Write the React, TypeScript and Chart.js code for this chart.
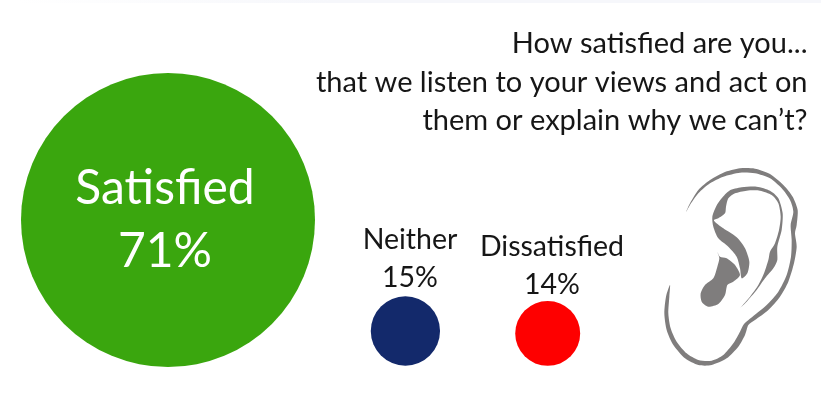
import React, { useEffect, useRef } from "react";
import { Chart, registerables } from "chart.js";

Chart.register(...registerables);

// Survey results
const categories = ["Satisfied", "Neither", "Dissatisfied"];
const shares = [71, 15, 14];

const questionLines = [
  "How satisfied are you...",
  "that we listen to your views and act on",
  "them or explain why we can\u2019t?",
];

// Where each result sits on the page, in page units
const centreX = [168, 405.4, 547.7];
const centreY = [220, 331, 333.4];
const colours = ["#3aa60e", "#13296b", "#fe0000"];

// Caption placement: centre x, baselines of the name and the share, size, colour
const captionX = [165, 410, 552];
const nameBaseline = [204, 249, 256];
const shareBaseline = [267, 287, 294];
const captionSize = [48, 28.5, 28.5];
const captionColour = ["#ffffff", "#161616", "#161616"];

const FONT = "Lato, 'Noto Sans', sans-serif";

// Bubble radius grows with the share
const radiusFor = (share: number) => 147 * Math.pow(share / 71, 0.93);

// Outline points for the ear artwork, drawn at a third of these units from (640,150)
const earHelix = [
  [138, 187], [150, 160], [175, 120], [210, 90], [250, 68], [300, 55], [345, 56], [390, 72],
  [430, 105], [458, 140], [473, 180], [470, 225], [465, 250], [470, 290], [462, 340], [445, 395],
  [420, 440], [385, 480], [345, 510], [325, 525], [315, 555], [295, 590], [260, 625], [215, 645],
  [175, 645], [135, 625], [100, 585], [80, 540], [73, 490], [78, 440], [90, 405], [88, 440],
  [85, 490], [92, 535], [110, 575], [140, 610], [175, 630], [215, 632], [250, 615], [280, 580],
  [300, 545], [312, 522], [340, 498], [380, 465], [415, 425], [440, 375], [453, 320], [455, 270],
  [452, 225], [460, 185], [450, 150], [425, 115], [390, 85], [345, 70], [300, 68], [250, 80],
  [210, 100], [175, 130], [150, 165],
];
const earFold = [
  [302, 472], [330, 440], [355, 405], [372, 370], [385, 330], [390, 305], [405, 280], [417, 240],
  [422, 200], [415, 160], [395, 135], [360, 122], [320, 122], [285, 130], [265, 145], [258, 170],
  [255, 190], [235, 205], [222, 212], [250, 235], [290, 262], [315, 295], [328, 335], [322, 370],
  [305, 385], [300, 355], [290, 320], [265, 290], [235, 265], [220, 230], [217, 200], [228, 170],
  [245, 145], [268, 122], [305, 112], [350, 110], [390, 122], [415, 145], [428, 190], [425, 240],
  [412, 290], [412, 330], [400, 355], [375, 385], [350, 420], [320, 455],
];
const earLobe = [
  [232, 305], [240, 320], [260, 325], [285, 345], [300, 375], [280, 395], [262, 405], [255, 435],
  [235, 462], [205, 470], [185, 455], [182, 430], [195, 405], [220, 385], [232, 350], [238, 325],
];

// Closed Catmull-Rom curve through every outline point
function traceSmooth(ctx: CanvasRenderingContext2D, pts: number[][]) {
  const n = pts.length;
  ctx.moveTo(pts[0][0], pts[0][1]);
  for (let i = 0; i < n; i++) {
    const p0 = pts[(i - 1 + n) % n];
    const p1 = pts[i];
    const p2 = pts[(i + 1) % n];
    const p3 = pts[(i + 2) % n];
    ctx.bezierCurveTo(
      p1[0] + (p2[0] - p0[0]) / 8,
      p1[1] + (p2[1] - p0[1]) / 8,
      p2[0] - (p3[0] - p1[0]) / 8,
      p2[1] - (p3[1] - p1[1]) / 8,
      p2[0],
      p2[1],
    );
  }
  ctx.closePath();
}

const annotations = {
  id: "annotations",
  afterDatasetsDraw(chart: any) {
    const { ctx, scales } = chart;
    ctx.save();

    ctx.fillStyle = "#161616";
    ctx.textAlign = "right";
    ctx.textBaseline = "alphabetic";
    ctx.font = `29px ${FONT}`;
    questionLines.forEach((line, i) => {
      ctx.fillText(line, scales.x.getPixelForValue(807.5), scales.y.getPixelForValue(53 + i * 38.5));
    });

    ctx.textAlign = "center";
    categories.forEach((name, i) => {
      ctx.fillStyle = captionColour[i];
      ctx.font = `${captionSize[i]}px ${FONT}`;
      const x = scales.x.getPixelForValue(captionX[i]);
      ctx.fillText(name, x, scales.y.getPixelForValue(nameBaseline[i]));
      ctx.fillText(`${shares[i]}%`, x, scales.y.getPixelForValue(shareBaseline[i]));
    });

    ctx.translate(640, 150);
    ctx.scale(1 / 3, 1 / 3);
    ctx.fillStyle = "#7f7d7d";
    [earHelix, earFold, earLobe].forEach((shape) => {
      ctx.beginPath();
      traceSmooth(ctx, shape);
      ctx.fill();
    });
    ctx.restore();
  },
};

export default function App() {
  const ref = useRef<HTMLCanvasElement>(null);

  useEffect(() => {
    const chart = new Chart(ref.current!, {
      type: "bubble",
      data: {
        labels: categories,
        datasets: [
          {
            label: "Share of responses",
            data: shares.map((share, i) => ({
              x: centreX[i],
              y: centreY[i],
              r: radiusFor(share),
            })),
            backgroundColor: colours,
            borderWidth: 0,
            hoverBorderWidth: 0,
          },
        ],
      },
      options: {
        animation: false,
        responsive: false,
        events: [],
        layout: { padding: 0, autoPadding: false },
        plugins: { legend: { display: false }, tooltip: { enabled: false } },
        scales: {
          x: { type: "linear", min: 0, max: 821, display: false },
          y: { type: "linear", min: 0, max: 403, reverse: true, display: false },
        },
      },
      plugins: [annotations],
    });
    return () => chart.destroy();
  }, []);

  return (
    <div style={{ position: "fixed", left: 0, top: 0, width: 821, height: 403, background: "#ffffff" }}>
      <canvas ref={ref} width={821} height={403} style={{ display: "block" }} />
      <div
        style={{
          position: "absolute",
          left: 0,
          top: 0,
          width: 821,
          height: 3,
          background: "linear-gradient(to right, #ffffff 2%, #f6f7fb 40%, #f6f7fb 100%)",
        }}
      />
    </div>
  );
}
